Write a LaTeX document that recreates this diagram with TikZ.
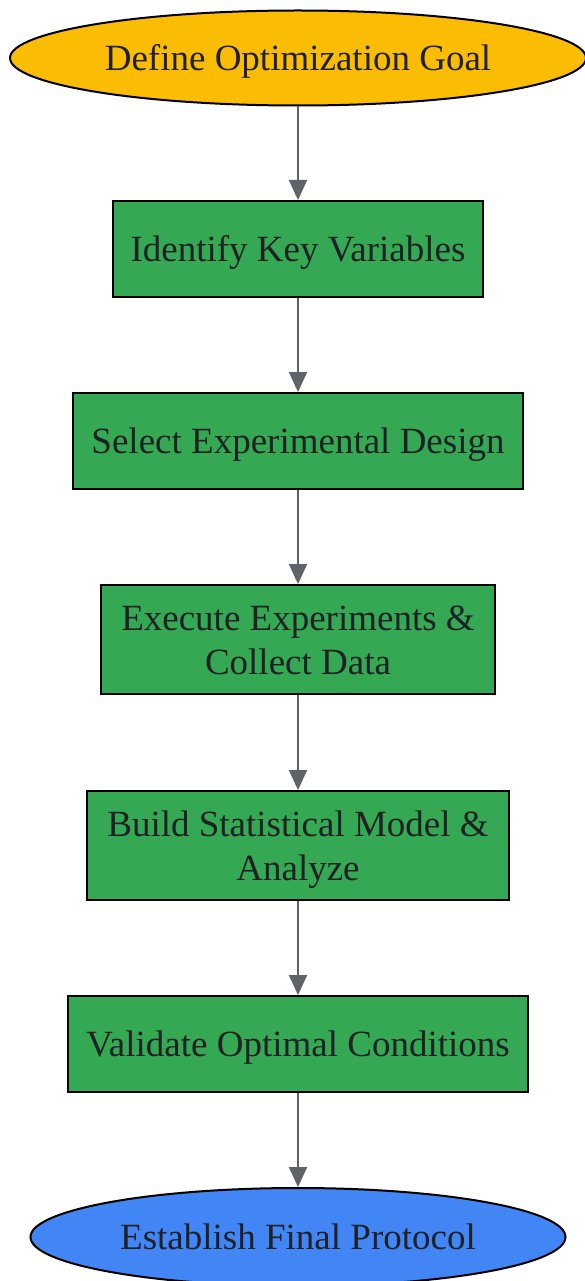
\documentclass[tikz,border=0pt]{standalone}
\usepackage{fontspec}
\setmainfont{Liberation Serif}
\usetikzlibrary{shapes.geometric,arrows.meta}
\definecolor{goalyellow}{HTML}{FBBC04}
\definecolor{stepgreen}{HTML}{34A853}
\definecolor{endblue}{HTML}{4285F4}
\definecolor{txt}{HTML}{202124}
\definecolor{arrowgray}{HTML}{5F6368}
\newcommand{\ctext}[1]{\raisebox{0pt}[\dimexpr\height+8pt\relax][\depth]{\begin{tabular}{@{}c@{}}#1\end{tabular}}}
\tikzset{
  x=1pt,y=-1pt,
  base/.style={draw=black,line width=2pt,text=txt,font=\fontsize{37}{44}\selectfont,inner sep=0pt},
  terminal/.style={base,ellipse},
  stepbox/.style={base,rectangle,fill=stepgreen},
  conn/.style={draw=arrowgray,line width=2pt,-{Triangle[length=20pt,width=18pt]}}
}
\begin{document}
\begin{tikzpicture}
\useasboundingbox (0,0) rectangle (584,1281);
\node[terminal,fill=goalyellow,minimum width=576pt,minimum height=95pt] (goal) at (298,58) {\ctext{Define Optimization Goal}};
\node[stepbox,minimum width=370pt,minimum height=96pt] (vars) at (298,249) {\ctext{Identify Key Variables}};
\node[stepbox,minimum width=450pt,minimum height=96pt] (design) at (298,441) {\ctext{Select Experimental Design}};
\node[stepbox,minimum width=394pt,minimum height=109pt] (exec) at (298,639.5) {\ctext{Execute Experiments \&\\Collect Data}};
\node[stepbox,minimum width=422pt,minimum height=109pt] (model) at (298,845.5) {\ctext{Build Statistical Model \&\\Analyze}};
\node[stepbox,minimum width=460pt,minimum height=96pt] (valid) at (298,1044) {\ctext{Validate Optimal Conditions}};
\node[terminal,fill=endblue,minimum width=535pt,minimum height=98pt] (final) at (298,1237) {\ctext{Establish Final Protocol}};
\draw[conn] (goal) -- (vars);
\draw[conn] (vars) -- (design);
\draw[conn] (design) -- (exec);
\draw[conn] (exec) -- (model);
\draw[conn] (model) -- (valid);
\draw[conn] (valid) -- (final);
\end{tikzpicture}
\end{document}
